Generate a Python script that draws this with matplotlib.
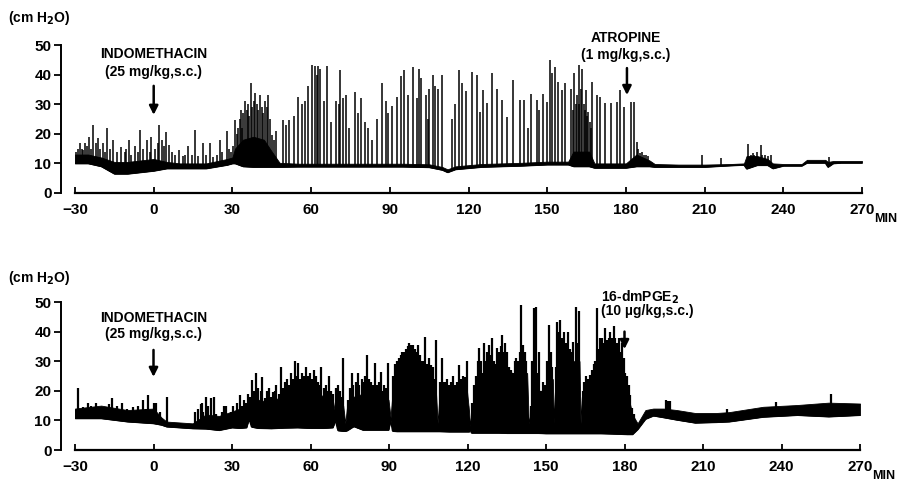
import numpy as np
import matplotlib
matplotlib.use("Agg")
import matplotlib.pyplot as plt

plt.rcParams['font.family'] = ['Liberation Sans', 'DejaVu Sans']
plt.rcParams['font.weight'] = 'bold'

# ---- upper trace (indomethacin then atropine) ----
# solid part of the trace: time (min), lower edge, upper edge (cm H2O)
top_t = [-30, -25, -20, -15, -10, -5, 0, 5, 10, 20,
         28, 30, 31, 34, 38, 42, 45, 48, 55, 65,
         75, 85, 95, 105, 110, 112, 115, 125, 140, 150,
         158, 160, 166, 168, 180, 184, 189, 191, 200, 210,
         220, 225, 226, 230, 234, 236, 240, 247, 249, 256,
         257, 259, 262, 270]
top_lo = [10, 10, 9, 6.5, 6.5, 7, 7.5, 8.3, 8.3, 8.3,
          9.5, 10, 10, 9, 8.8, 8.8, 8.8, 8.8, 8.9, 8.9,
          8.9, 8.9, 8.9, 8.7, 7.8, 7, 8, 8.8, 9.2, 9.6,
          9.6, 9, 9, 8.5, 8.5, 9, 9, 8.8, 8.8, 8.8,
          9.3, 9.5, 8.2, 9.4, 9.4, 8.3, 9.2, 9.2, 10.2, 10.2,
          8.8, 10, 10.2, 10.2]
top_hi = [13, 13, 12, 10.5, 10.5, 11, 11.5, 10.5, 10, 10,
          11.5, 12, 15, 18, 19, 18, 14, 10.2, 9.9, 9.9,
          9.9, 9.9, 9.9, 9.7, 8.8, 8, 9, 9.8, 10.2, 10.6,
          10.6, 14, 14, 10, 10, 13, 11, 9.8, 9.6, 9.6,
          9.8, 10, 12.5, 12.5, 11.5, 10, 9.8, 9.8, 11.2, 11.2,
          10.5, 10.8, 10.8, 10.8]
# contraction spikes: time (min), peak (cm H2O)
top_spk_t = [-29.5, -29, -28.1, -27.5, -26.8, -26, -25.5, -24.5, -24, -23,
             -22, -21.1, -20.5, -19.5, -18.5, -17.9, -16.5, -15.4, -14, -12.5,
             -11, -10.5, -9.6, -8.5, -7, -6, -5.2, -4, -2.7, -1.5,
             -1, 0.5, 1.5, 2.2, 3.2, 4, 4.7, 6, 7, 8,
             9.5, 11, 12, 13.2, 14.5, 15.8, 17, 18.9, 20, 21.5,
             22.5, 24, 25.3, 26, 27.8, 28.8, 29.5, 30.3, 31, 31.6,
             32.2, 32.8, 33.3, 33.8, 34.2, 34.8, 35.4, 36, 36.5, 37,
             37.6, 38.2, 38.7, 39.2, 39.8, 40.5, 41.1, 41.7, 42.4, 43,
             43.6, 44.3, 45, 45.7, 46.5, 49.3, 50.5, 51.5, 53.5, 55.1,
             56.4, 57.7, 58.9, 60.2, 61.5, 62.2, 62.7, 63.4, 64.8, 66.1,
             67.6, 69.5, 70.5, 71.2, 72, 73.3, 74.5, 76.6, 78, 79.2,
             80.5, 81.8, 83.3, 85, 87.2, 88.5, 89.5, 90.8, 92.7, 94.3,
             95.6, 97, 99, 100.3, 101.2, 102, 103.8, 104.5, 105, 106.3,
             107.3, 108.5, 110, 113.8, 114.9, 116.4, 117.7, 119, 121.2, 123.1,
             124.3, 125.7, 127, 128.8, 131, 132.7, 134.6, 137.1, 139.6, 141.2,
             142.6, 143.7, 146, 146.9, 148.5, 149.8, 151.1, 152, 153, 154.3,
             155.5, 156.8, 159.1, 159.8, 160.4, 160.9, 161.5, 162, 162.3, 162.8,
             163.4, 163.9, 164.3, 164.7, 165.2, 165.7, 166.2, 166.7, 167.2, 168.9,
             170.1, 172, 174.3, 176.5, 177.8, 179.4, 182, 183.1, 184.1, 184.8,
             185.5, 186.2, 187, 187.8, 188.5, 208.9, 216.3, 226.7, 227.5, 228.3,
             229, 230, 231.4, 232, 233, 234, 235.3, 257.6]
top_spk_h = [14, 15, 16.8, 15, 14.5, 17, 16, 19, 15, 23,
             17, 18.5, 15, 17, 14, 21.8, 15, 18, 14, 15.6,
             14, 15, 18, 13, 16, 14, 21.3, 15, 18, 14,
             19, 15, 17, 23, 18, 16, 20.7, 16.2, 14, 13,
             14.5, 12.5, 13, 16, 13, 21.3, 12.5, 16.8, 13, 16.8,
             12, 13, 18, 14, 21, 15, 14, 16, 24.7, 20,
             22, 25, 28, 22, 27, 31, 28, 30, 26, 37,
             29, 31, 33.7, 30, 28, 33, 29, 27, 31, 29,
             33, 25, 19.6, 18, 21, 24.7, 23, 24.7, 26, 32.5,
             30, 31, 36, 43.2, 43, 40, 43, 42, 31, 43,
             24, 31, 30, 41.5, 32, 33, 22, 34, 27, 32,
             24, 22, 18, 25, 37, 31, 27, 29.5, 32.5, 39.5,
             41.5, 33, 42.5, 32, 42, 39, 33, 25, 35, 40,
             36, 35, 40, 25, 30, 41.5, 37, 34.5, 41, 39.9,
             27.5, 34.8, 30.3, 40.4, 35.3, 31.4, 25.8, 38.2, 31.4, 31.4,
             21.8, 33.6, 31.4, 28, 33.6, 30.8, 44.9, 40.4, 42.7, 37.6,
             34.8, 37, 35.3, 28, 40.4, 30, 33, 30, 43.2, 35,
             42, 30, 28, 34.8, 26, 27.5, 24, 22, 37.6, 33,
             32.5, 30.3, 30.3, 30.8, 34.8, 29.2, 30.8, 30.8, 17.3, 15,
             13.5, 14, 13, 13, 12.5, 12.8, 11.7, 16.7, 13, 13.5,
             13, 14, 16.1, 13, 13, 12.5, 12.8, 12]

# ---- lower trace (indomethacin then 16-dmPGE2) ----
bot_t = [-30, -20, -10, 0, 3, 5, 15, 20, 25, 30,
         33, 35.5, 36.5, 37.5, 40, 45, 50, 55, 60, 65,
         68.5, 69.5, 70.5, 72.5, 73.3, 74, 76.5, 80, 85, 89.8,
         90.6, 91.4, 93, 96, 99, 102, 105, 107.8, 108.6, 109.3,
         113, 116, 119.8, 120.6, 121, 121.5, 123, 126, 129, 132,
         135, 138, 142.8, 143.4, 144, 147, 150, 152.6, 153, 153.5,
         156, 160, 162.8, 163.2, 163.7, 167, 171, 175, 178, 181,
         183, 185, 188, 191, 195, 200, 207, 215, 220, 233,
         246, 258, 270]
bot_lo = [10.7, 10.7, 9.6, 9, 8.5, 7.9, 7.3, 7.2, 6.7, 7.6,
          7.4, 7.6, 10.5, 7.8, 7.4, 7.3, 7.5, 7.6, 7.4, 7.4,
          7.6, 10, 6.6, 6.4, 6.4, 6.6, 8, 6.8, 6.8, 6.8,
          10, 6.4, 6.3, 6.3, 6.3, 6.3, 6.3, 6.3, 6.3, 6.3,
          6.2, 6.2, 6.2, 6.2, 7, 5.8, 5.8, 5.8, 5.8, 5.8,
          5.7, 5.7, 5.7, 5.7, 5.7, 5.7, 5.6, 5.6, 5.6, 5.6,
          5.6, 5.6, 5.6, 5.6, 5.6, 5.6, 5.6, 5.5, 5.4, 5.3,
          5.3, 7, 10.5, 11.6, 11, 10.2, 9.2, 9.4, 9.6, 11.2,
          11.8, 11.3, 11.8]
bot_hi = [14, 15, 13.5, 14, 11, 9.6, 9, 12, 11.5, 13,
          14, 15, 17, 17, 17, 16, 19, 21, 21, 18,
          17, 12, 16, 15, 9, 15, 18, 19, 18, 17,
          11, 20, 24, 27, 29, 28, 26, 22, 9, 19,
          19, 19, 20, 13, 8, 13, 19, 24, 27, 28,
          28, 25, 26, 9, 12, 20, 20, 24, 9, 22,
          33, 30, 30, 9, 18, 21, 28, 31, 30, 20,
          12, 9, 13.5, 14, 14, 13.5, 12.5, 12.5, 12.8, 14.6,
          15.2, 16, 15.7]
bot_spk_t = [-29.5, -28.7, -27, -25, -24, -22, -19, -17, -16, -14,
             -12, -10, -8, -6, -4, -3, -2, 0, 1, 2.5,
             5.2, 16, 17, 18, 18.5, 19, 20.2, 21, 22.1, 23,
             24, 26, 27, 27.8, 28.5, 29.5, 30.5, 31.3, 32.1, 32.9,
             33.7, 34.5, 35.3, 36.1, 36.9, 37.7, 38.5, 39.3, 40.1, 40.9,
             41.5, 42.5, 43.2, 44, 44.8, 45.5, 46.3, 47, 47.8, 48.8,
             49.5, 50.2, 51, 51.8, 52.5, 53.2, 53.9, 54.6, 55.3, 56,
             56.8, 57.5, 58.3, 59, 59.8, 60.5, 61.2, 62, 62.8, 63.5,
             64.2, 65, 65.8, 66.5, 67.2, 68, 68.7, 69.6, 70.4, 71.1,
             71.8, 72.5, 74.2, 75, 75.7, 76.4, 77.2, 78, 78.7, 79.5,
             80.2, 81, 81.6, 82.3, 83, 83.8, 84.6, 85.3, 86, 86.8,
             87.5, 88.2, 89, 89.7, 91.6, 92.3, 93, 93.7, 94.4, 95,
             95.8, 96.5, 97.2, 97.7, 98.4, 99.1, 99.8, 100.5, 101.2, 101.9,
             102.6, 103.3, 103.8, 104.5, 105.2, 106, 106.7, 107.3, 107.9, 109.3,
             110.2, 110.9, 111.6, 112.3, 113, 113.8, 114.5, 115.2, 116, 116.8,
             117.5, 118.2, 119, 119.7, 120.3, 121.7, 122.5, 123.2, 124, 124.4,
             125, 125.7, 126.3, 127, 127.6, 128.2, 128.9, 129.5, 130.2, 130.9,
             131.4, 132, 132.7, 133.3, 134, 134.5, 135.2, 135.9, 136.6, 137.3,
             138, 138.6, 139.3, 140, 140.5, 141.2, 141.8, 142.5, 144.2, 144.8,
             145.4, 146, 146.7, 147.5, 148.2, 149, 149.7, 150.4, 151.1, 151.8,
             152.4, 153.7, 154.3, 155, 155.5, 156.2, 157, 157.7, 158.3, 159,
             159.7, 160.3, 161.3, 162, 162.5, 164, 164.7, 165.4, 166.1, 166.8,
             167.5, 168.2, 168.8, 169.4, 170.1, 170.8, 171.5, 172.1, 172.7, 173.4,
             174, 174.6, 175.3, 175.9, 176.5, 177.2, 177.8, 178.5, 179.2, 179.7,
             180.3, 181, 181.6, 182.2, 182.9, 183.6, 196, 196.8, 197.5, 219,
             238, 259]
bot_spk_h = [13.5, 20.8, 14.5, 16, 15, 16, 14.5, 15.5, 17.4, 15,
             16, 14, 14.5, 15, 16.8, 14, 18.6, 16, 16, 13,
             18, 13, 14, 15.5, 16, 13, 18, 15, 17.4, 18,
             12, 13, 15, 15, 12, 13, 15, 13, 16, 18.6,
             15, 17, 16, 19, 18, 23.6, 20, 25.9, 21, 20,
             24.8, 17.4, 20, 21, 18, 19.6, 20, 22, 19, 28.2,
             21, 23, 24, 22, 26, 24, 29.9, 25, 29.3, 24,
             26, 25, 28.2, 25, 26, 24, 27, 25, 23, 22,
             28.2, 21, 22, 20, 25, 20, 19, 21, 22, 20,
             18, 31, 17, 21, 25.9, 22, 23, 26, 22, 24,
             23, 25, 32.1, 24, 23, 22, 29.3, 22, 23, 26.5,
             20, 22, 21, 29.3, 25, 29, 30, 31, 32, 33,
             33, 34, 35, 36, 35.5, 35.5, 34, 33, 35.5, 32,
             30, 30, 38.3, 29, 31, 28.7, 28, 24, 37.2, 23,
             31, 23, 23, 24, 22, 23, 25, 22, 23, 28.7,
             24, 25, 24.7, 30, 15, 16, 22, 25, 30, 34.3,
             30, 26, 36, 30, 33, 35.5, 32, 38, 30, 29,
             34.3, 33, 35, 38.8, 33, 36, 33, 28, 27, 26,
             30, 31, 30, 33, 49, 35.5, 33, 30, 15, 30,
             47.9, 48.4, 26, 33, 20, 23, 22, 30, 42.2, 33,
             28, 28, 43.3, 40, 43.9, 38, 40, 36, 40, 34,
             33, 36.6, 48.4, 36, 46.8, 20, 23, 25, 24, 25.3,
             27, 29, 30, 48, 34, 37.7, 38, 36, 41.1, 37,
             38, 40, 38, 42, 37.7, 36, 38, 33, 36, 31,
             26, 25, 22, 18.6, 14.1, 12, 17, 16.5, 16.5, 14,
             16.3, 19]

x_ticks = [-30, 0, 30, 60, 90, 120, 150, 180, 210, 240, 270]
y_ticks = [0, 10, 20, 30, 40, 50]


def draw_trace(ax, t, lo, hi, spk_t, spk_h, spk_lw):
    ax.fill_between(t, lo, hi, color='black', lw=0.6)
    ax.plot(t, lo, color='black', lw=1.0)
    base = np.interp(spk_t, t, lo)
    ax.vlines(spk_t, base, spk_h, color='black', lw=spk_lw)


def style_axes(ax):
    ax.set_xlim(-30, 270)
    ax.set_ylim(0, 50)
    for s in ['top', 'right']:
        ax.spines[s].set_visible(False)
    ax.spines['left'].set_position(('outward', 10))
    ax.spines['left'].set_bounds(0, 50)
    ax.spines['bottom'].set_bounds(-30, 270)
    ax.spines['left'].set_linewidth(1.4)
    ax.spines['bottom'].set_linewidth(1.6)
    ax.set_xticks(x_ticks)
    ax.set_yticks(y_ticks)
    ax.tick_params(axis='x', direction='in', length=4, width=1.3, pad=7,
                   labelsize=11)
    ax.tick_params(axis='y', direction='out', length=5, width=1.3, pad=2,
                   labelsize=11)
    ax.text(1.03, -0.175, 'MIN', transform=ax.transAxes, fontsize=9,
            fontweight='bold', ha='center', va='center')


fig = plt.figure(figsize=(9.08, 4.83), dpi=100)
ax1 = fig.add_axes([75 / 908, 1 - 193 / 483, 787 / 908, 148 / 483])
ax2 = fig.add_axes([75 / 908, 1 - 450 / 483, 785 / 908, 148 / 483])

draw_trace(ax1, top_t, top_lo, top_hi, top_spk_t, top_spk_h, 1.1)
draw_trace(ax2, bot_t, bot_lo, bot_hi, bot_spk_t, bot_spk_h, 1.6)
style_axes(ax1)
style_axes(ax2)

arrow = dict(arrowstyle='-|>', lw=1.8, color='black', mutation_scale=13,
             shrinkA=0, shrinkB=0)
fs = 10

# upper panel labels
fig.text(8 / 908, 1 - 18 / 483, '(cm H$_2$O)', fontsize=10, va='center')
ax1.text(0, 47, 'INDOMETHACIN', ha='center', va='center', fontsize=fs)
ax1.text(0, 40.9, '(25 mg/kg,s.c.)', ha='center', va='center', fontsize=fs)
ax1.annotate('', xy=(0, 26.4), xytext=(0, 36.2), arrowprops=arrow)
ax1.text(180, 52.4, 'ATROPINE', ha='center', va='center', fontsize=fs)
ax1.text(180, 46.6, '(1 mg/kg,s.c.)', ha='center', va='center', fontsize=fs)
ax1.annotate('', xy=(180.4, 33.1), xytext=(180.4, 42.2), arrowprops=arrow)

# lower panel labels
fig.text(8 / 908, 1 - 278 / 483, '(cm H$_2$O)', fontsize=10, va='center')
ax2.text(0, 44.6, 'INDOMETHACIN', ha='center', va='center', fontsize=fs)
ax2.text(0, 39.2, '(25 mg/kg,s.c.)', ha='center', va='center', fontsize=fs)
ax2.annotate('', xy=(0, 24.7), xytext=(0, 33.8), arrowprops=arrow)
ax2.text(171, 51.7, '16-dmPGE$_2$', ha='left', va='center', fontsize=fs)
ax2.text(171, 47, '(10 µg/kg,s.c.)', ha='left', va='center', fontsize=fs)
ax2.annotate('', xy=(180, 34.1), xytext=(180, 40), arrowprops=arrow)

fig.savefig('out.png', dpi=100)
